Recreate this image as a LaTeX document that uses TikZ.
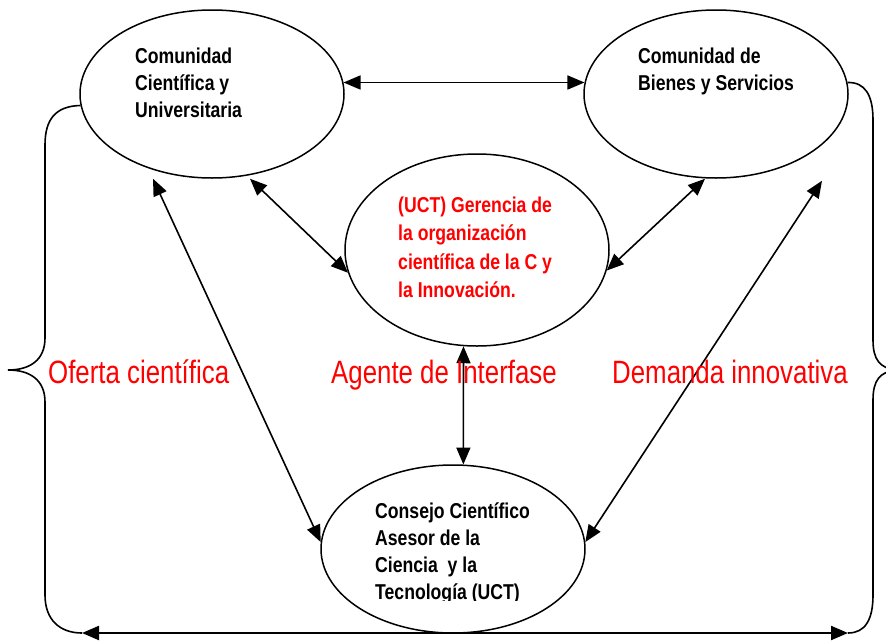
\documentclass[tikz,border=0pt]{standalone}
\usepackage{fontspec}
\setmainfont{Liberation Sans}
\newfontfamily\narrow[FakeStretch=0.82]{Liberation Sans}
\newfontfamily\narrowlab[FakeStretch=0.8]{Liberation Sans}
\usetikzlibrary{shapes.geometric,arrows.meta}
\begin{document}
\begin{tikzpicture}[x=1pt,y=-1pt,
  circ/.style={draw, ellipse, line width=1.5pt, minimum width=264pt, minimum height=168pt, inner sep=0pt},
  blk/.style={inner sep=0pt, anchor=base west, font={\narrow\bfseries\fontsize{21.5}{27}\selectfont}},
  big/.style={inner sep=0pt, anchor=base west, text=red, font={\narrowlab\fontsize{32.3}{36}\selectfont}},
  bi/.style={line width=1.6pt, {Triangle[length=17pt,width=14pt]}-{Triangle[length=17pt,width=14pt]}},
  brace/.style={line width=1.6pt}]
\useasboundingbox (0,0) rectangle (886,640);

% ellipses
\node[circ] (A) at (212,94) {};
\node[circ] (B) at (716,94) {};
\node[circ, minimum height=192pt] (C) at (477,250) {};
\node[circ] (D) at (453,549) {};

% texts
\node[blk] (tA) at (135,63) {\parbox[t]{180pt}{\raggedright Comunidad\\Científica y\\Universitaria}};
\node[blk] (tB) at (638,63) {\parbox[t]{200pt}{\raggedright Comunidad de\\Bienes y Servicios}};
\node[blk, text=red, font={\narrow\bfseries\fontsize{21.5}{28.6}\selectfont}] (tC) at (398,212)
  {\parbox[t]{200pt}{\raggedright (UCT) Gerencia de\\la organización\\científica de la C y\\la Innovación.}};
\begin{scope}
\clip (300,450) rectangle (620,600);
\node[blk, font={\narrow\bfseries\fontsize{21.5}{27.3}\selectfont}] (tD) at (375,518)
  {\parbox[t]{220pt}{\raggedright Consejo Científico\\Asesor de la\\Ciencia\ \ y la\\Tecnología (UCT)}};
\end{scope}

% connectors
\draw[bi] (A.5) -- (B.175);
\draw[bi] ([xshift=-59pt]A.south) -- (D.177);
\draw[bi] ([xshift=38pt]A.south) -- (C.-170);
\draw[bi] ([xshift=-11pt]B.south) -- (C.-9);
\draw[bi] ([xshift=106pt,yshift=-2pt]B.south) -- (D.3);
\draw[bi] (C.-98) -- (D.83);

\coordinate (bl) at (82,633);
\coordinate (br) at (848,633);
\draw[bi, line width=2.2pt] (bl) -- (br);

% braces
\draw[brace] (A.185) .. controls (55,106) and (45,120) .. (45,145) -- (45,338)
  .. controls (45,360) and (30,370) .. (8,370)
  .. controls (30,370) and (45,380) .. (45,402) -- (45,595)
  .. controls (45,620) and (60,633) .. (bl);
\draw[brace] (B.5) .. controls (865,82) and (873,95) .. (873,120) -- (873,340)
  .. controls (873,360) and (880,368) .. (896,370)
  .. controls (880,372) and (873,380) .. (873,400) -- (873,595)
  .. controls (873,620) and (865,633) .. (br);

% labels
\node[big] (l1) at (48,383) {Oferta científica};
\node[big] (l2) at (331,383) {Agente de Interfase};
\node[big] (l3) at (612,383) {Demanda innovativa};
\end{tikzpicture}
\end{document}
